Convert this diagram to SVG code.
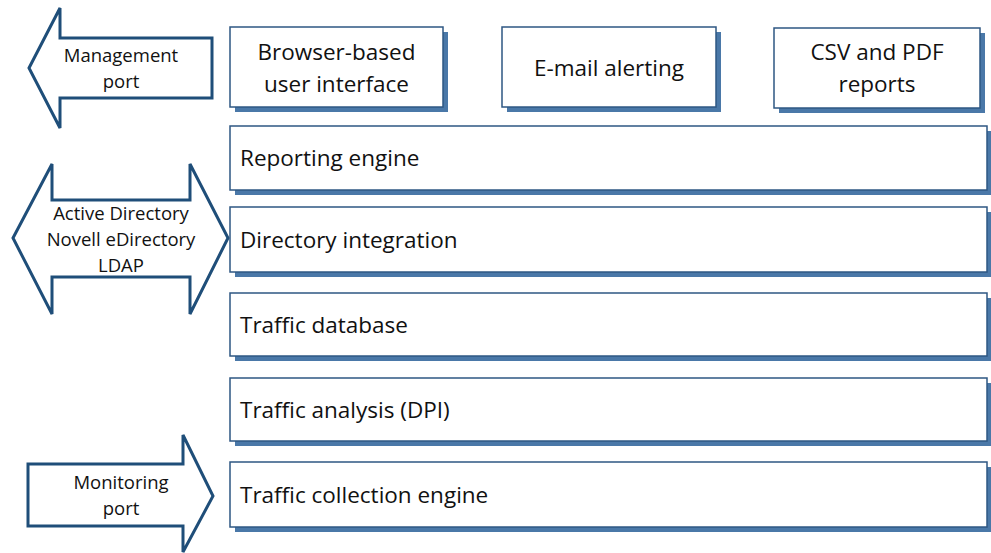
<svg xmlns="http://www.w3.org/2000/svg" width="991" height="553" viewBox="0 0 991 553">
  <defs>
    <style>
      .box { fill: #ffffff; stroke: #2e5783; stroke-width: 1.5; }
      .shadow { fill: #4a78a8; }
      .arrow { fill: #ffffff; stroke: #1f4e79; stroke-width: 3; stroke-linejoin: miter; }
      .lbl { font-family: "Open Sans", "Liberation Sans", sans-serif; font-size: 22.5px; fill: #111111; }
      .small { font-family: "Open Sans", "Liberation Sans", sans-serif; font-size: 18.5px; fill: #111111; }
    </style>
  </defs>
  <rect width="991" height="553" fill="#ffffff"/>

  <!-- interface arrows -->
  <g id="management-port">
    <polygon class="arrow" points="29,68 60,8 60,38 212,38 212,98 60,98 60,128"/>
    <text class="small" x="121" y="62" text-anchor="middle">Management</text>
    <text class="small" x="121" y="88" text-anchor="middle">port</text>
  </g>
  <g id="directory-port">
    <polygon class="arrow" points="13,238 52,164 52,200 190,200 190,164 228,238 190,314 190,277 52,277 52,314"/>
    <text class="small" x="121" y="220" text-anchor="middle">Active Directory</text>
    <text class="small" x="121" y="246" text-anchor="middle">Novell eDirectory</text>
    <text class="small" x="121" y="272" text-anchor="middle">LDAP</text>
  </g>
  <g id="monitoring-port">
    <polygon class="arrow" points="28,464 183,464 183,435 213,496 183,552 183,526 28,526"/>
    <text class="small" x="121" y="489" text-anchor="middle">Monitoring</text>
    <text class="small" x="121" y="515" text-anchor="middle">port</text>
  </g>

  <!-- top row -->
  <g id="browser-ui">
    <rect class="shadow" x="235" y="32" width="213" height="80"/>
    <rect class="box" x="230" y="27" width="213" height="80"/>
    <text class="lbl" x="336.5" y="60" text-anchor="middle">Browser-based</text>
    <text class="lbl" x="336.5" y="92" text-anchor="middle">user interface</text>
  </g>
  <g id="email-alerting">
    <rect class="shadow" x="507" y="32" width="214" height="80"/>
    <rect class="box" x="502" y="27" width="214" height="80"/>
    <text class="lbl" x="609" y="76" text-anchor="middle">E-mail alerting</text>
  </g>
  <g id="csv-pdf-reports">
    <rect class="shadow" x="779" y="33" width="206" height="80"/>
    <rect class="box" x="774" y="28" width="206" height="80"/>
    <text class="lbl" x="877" y="60" text-anchor="middle">CSV and PDF</text>
    <text class="lbl" x="877" y="92" text-anchor="middle">reports</text>
  </g>

  <!-- stacked layers -->
  <g id="reporting-engine">
    <rect class="shadow" x="235" y="131" width="756" height="64"/>
    <rect class="box" x="230" y="126" width="757" height="64"/>
    <text class="lbl" x="240" y="166">Reporting engine</text>
  </g>
  <g id="directory-integration">
    <rect class="shadow" x="235" y="212" width="756" height="65"/>
    <rect class="box" x="230" y="207" width="757" height="65"/>
    <text class="lbl" x="240" y="248">Directory integration</text>
  </g>
  <g id="traffic-database">
    <rect class="shadow" x="235" y="298" width="756" height="63"/>
    <rect class="box" x="230" y="293" width="757" height="63"/>
    <text class="lbl" x="240" y="333">Traffic database</text>
  </g>
  <g id="traffic-analysis">
    <rect class="shadow" x="235" y="383" width="756" height="63"/>
    <rect class="box" x="230" y="378" width="757" height="63"/>
    <text class="lbl" x="240" y="418">Traffic analysis (DPI)</text>
  </g>
  <g id="traffic-collection">
    <rect class="shadow" x="235" y="467" width="756" height="65"/>
    <rect class="box" x="230" y="462" width="757" height="65"/>
    <text class="lbl" x="240" y="503">Traffic collection engine</text>
  </g>

  <g id="connectors"/>
</svg>
